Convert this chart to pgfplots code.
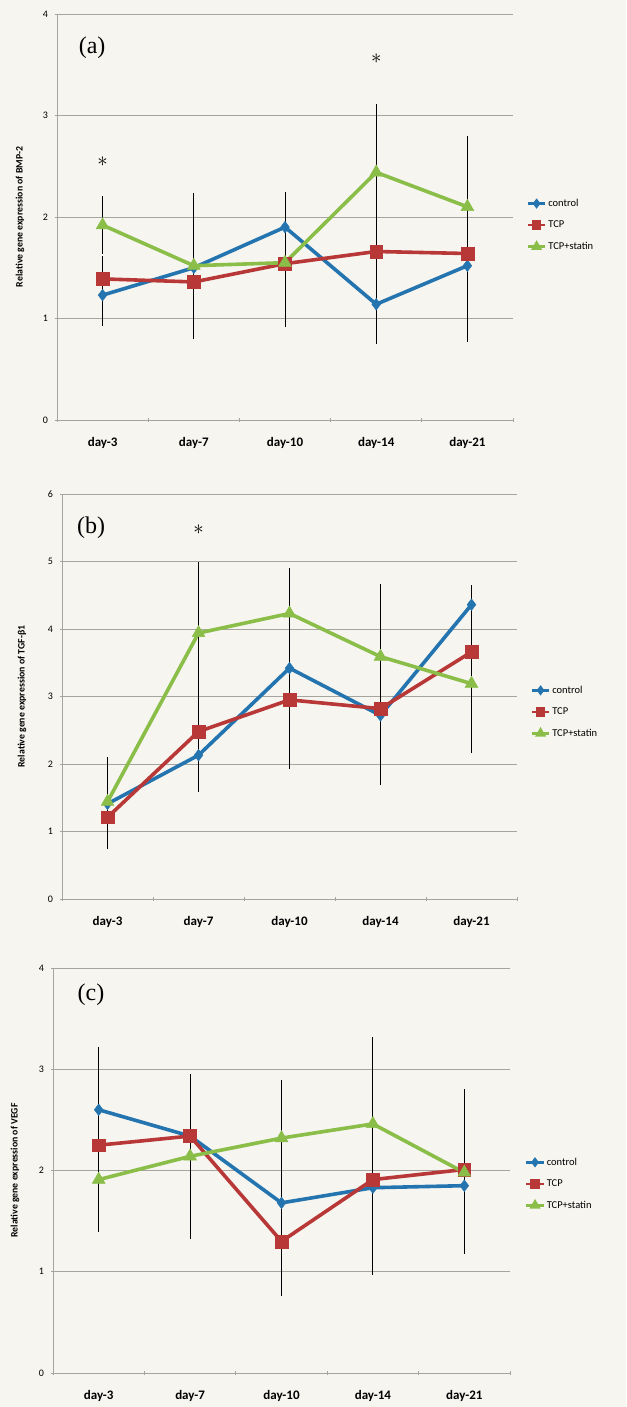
\documentclass[border=0pt]{standalone}
\usepackage{fontspec}
\setmainfont{Carlito}
\newfontfamily\panelfont{Liberation Serif}
\usepackage{pgfplots}
\usepackage{pgfplotstable}
\pgfplotsset{compat=1.18}

\definecolor{ctrlblue}{RGB}{36,116,176}
\definecolor{tcpred}{RGB}{184,56,56}
\definecolor{statgreen}{RGB}{138,190,72}
\definecolor{paper}{RGB}{246,245,240}
\definecolor{gridgray}{RGB}{165,165,160}

% columns: day index, mean and error for control, TCP, TCP+statin
\pgfplotstableread{
x  c    ce   t    te   s    se
0  1.23 0.29 1.39 0.21 1.92 0.27
1  1.50 0.29 1.36 0.29 1.52 0.70
2  1.90 0.33 1.54 0.20 1.55 0.62
3  1.14 0.37 1.66 0.16 2.44 0.66
4  1.52 0.73 1.64 0.28 2.10 0.68
}\bmp

\pgfplotstableread{
x  c    ce   t    te   s    se
0  1.41 0.60 1.21 0.44 1.44 0.64
1  2.13 0.52 2.48 0.60 3.94 1.02
2  3.42 1.20 2.95 1.00 4.23 0.64
3  2.72 1.00 2.82 1.10 3.59 1.05
4  4.36 0.26 3.66 0.84 3.19 1.00
}\tgf

\pgfplotstableread{
x  c    ce   t    te   s    se
0  2.60 0.60 2.25 0.82 1.91 0.50
1  2.34 0.50 2.34 0.23 2.14 0.80
2  1.68 0.75 1.30 0.52 2.32 0.56
3  1.83 0.83 1.91 0.92 2.46 0.84
4  1.85 0.66 2.01 0.78 1.98 0.50
}\vegf

\tikzset{
  sigstar/.style={font=\fontsize{22}{24}\selectfont},
  panellabel/.style={font=\panelfont\fontsize{24}{28}\selectfont},
}

\pgfplotsset{
  panel/.style={
    scale only axis,
    anchor=south west,
    xmin=-0.5, xmax=4.5,
    ymin=0,
    xtick={0,...,4},
    xticklabels={day-3,day-7,day-10,day-14,day-21},
    minor xtick={-0.5,0.5,...,4.5},
    major x tick style={draw=none},
    minor x tick style={gridgray, line width=0.8pt},
    minor tick length=4pt,
    tick align=outside,
    major tick length=5pt,
    y tick style={gridgray, line width=0.8pt},
    axis x line=bottom, axis y line=left,
    axis line style={-, gridgray, line width=0.9pt},
    ymajorgrids,
    grid style={gridgray, line width=0.9pt},
    /pgf/number format/assume math mode=true,
    yticklabel style={font=\fontsize{10}{12}\selectfont, xshift=-3pt},
    xticklabel style={font=\bfseries\fontsize{13}{15}\selectfont, yshift=-11pt},
    ylabel style={font=\bfseries\fontsize{9.8}{12}\selectfont, anchor=center},
    legend cell align=left,
    legend style={draw=none, fill=none, anchor=west, inner sep=0pt,
      font=\fontsize{10.5}{12}\selectfont, row sep=9pt},
    legend image post style={mark options={scale=0.55}, line width=2.4pt},
    clip=false,
    error bars/y dir=both,
    error bars/y explicit,
    error bars/error mark=|,
    error bars/error bar style={black, line width=0.9pt},
    error bars/error mark options={black, rotate=90, mark size=1.8pt, line width=1pt},
  },
  ctrl/.style={ctrlblue, line width=3.6pt, mark=diamond*, mark size=5.8pt,
    mark options={solid, fill=ctrlblue, draw=ctrlblue, line width=0.5pt}},
  tcp/.style={tcpred, line width=3.6pt, mark=square*, mark size=6.4pt,
    mark options={solid, fill=tcpred, draw=tcpred, line width=0.5pt}},
  stat/.style={statgreen, line width=3.6pt, mark=triangle*, mark size=7.4pt,
    mark options={solid, fill=statgreen, draw=statgreen, line width=0.5pt}},
}

\begin{document}
\begin{tikzpicture}[x=1pt, y=1pt]
\fill[paper] (0,0) rectangle (626,1407);

% (a) BMP-2
\begin{axis}[panel,
  at={(57pt,987pt)}, width=456pt, height=406pt,
  ymax=4, ytick={0,1,2,3,4},
  ylabel={Relative gene expression of BMP-2},
  ylabel style={at={(axis description cs:-0.081,0.5)}},
  legend style={at={(axis description cs:1.03,0.48)}},
]
\addplot[ctrl] table[x=x, y=c, y error=ce] {\bmp};
\addplot[tcp] table[x=x, y=t, y error=te] {\bmp};
\addplot[stat] table[x=x, y=s, y error=se] {\bmp};
\legend{control, TCP, TCP+statin}
\node[panellabel] at (rel axis cs:0.077,0.916) {(a)};
\node[sigstar] at (axis cs:0,2.54) {$\ast$};
\node[sigstar] at (axis cs:3,3.56) {$\ast$};
\end{axis}

% (b) TGF-beta1
\begin{axis}[panel,
  at={(62pt,508pt)}, width=455pt, height=405pt,
  ymax=6, ytick={0,1,2,3,4,5,6},
  ylabel={Relative gene expression of TGF-β1},
  ylabel style={at={(axis description cs:-0.088,0.5)}},
  legend style={at={(axis description cs:1.03,0.462)}},
]
\addplot[ctrl] table[x=x, y=c, y error=ce] {\tgf};
\addplot[tcp] table[x=x, y=t, y error=te] {\tgf};
\addplot[stat] table[x=x, y=s, y error=se] {\tgf};
\legend{control, TCP, TCP+statin}
\node[panellabel] at (rel axis cs:0.064,0.916) {(b)};
\node[sigstar] at (axis cs:1,5.47) {$\ast$};
\end{axis}

% (c) VEGF
\begin{axis}[panel,
  at={(53pt,34pt)}, width=457pt, height=405pt,
  ymax=4, ytick={0,1,2,3,4},
  ylabel={Relative gene expression of VEGF},
  ylabel style={at={(axis description cs:-0.083,0.5)}},
  legend style={at={(axis description cs:1.033,0.467)}},
]
\addplot[ctrl] table[x=x, y=c, y error=ce] {\vegf};
\addplot[tcp] table[x=x, y=t, y error=te] {\vegf};
\addplot[stat] table[x=x, y=s, y error=se] {\vegf};
\legend{control, TCP, TCP+statin}
\node[panellabel] at (rel axis cs:0.083,0.933) {(c)};
\end{axis}
\end{tikzpicture}
\end{document}
